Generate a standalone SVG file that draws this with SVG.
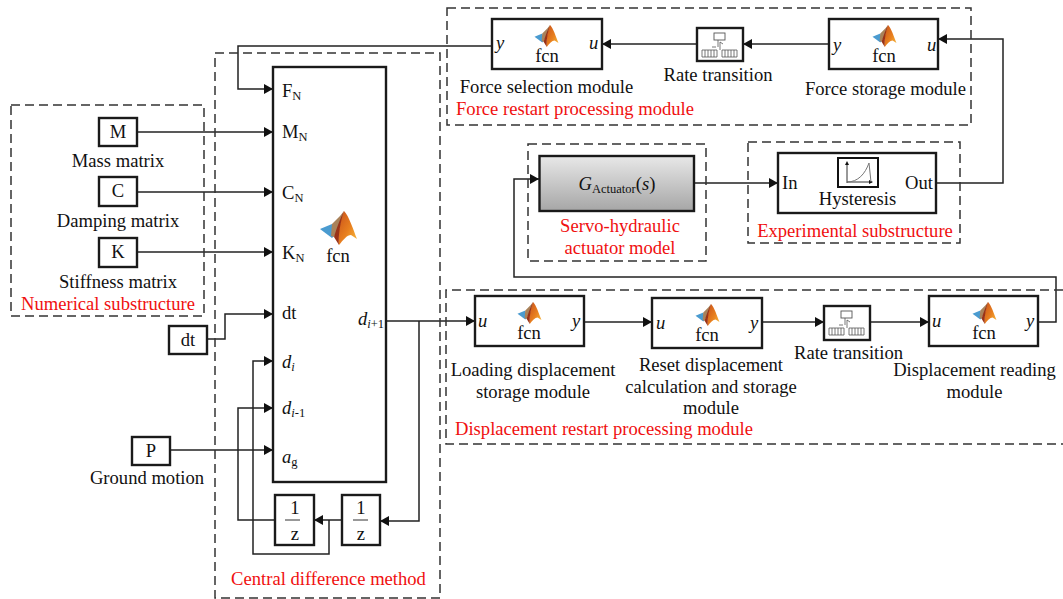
<svg xmlns="http://www.w3.org/2000/svg" width="1063" height="599" viewBox="0 0 1063 599">
<style>
text{font-family:"Liberation Serif","Times New Roman",serif;font-size:18.6px;fill:#111}
.m{text-anchor:middle}
.r{fill:#f01010}
.i{font-style:italic}
.s{font-size:12.5px}
.b{fill:#fff;stroke:#1a1a1a;stroke-width:2.4}
.d{fill:none;stroke:#333;stroke-width:1.5;stroke-dasharray:9 5}
.c{fill:none;stroke:#222;stroke-width:1.5}
.ic{fill:none;stroke:#555;stroke-width:.8}
</style>
<defs>
<marker id="a" markerUnits="userSpaceOnUse" markerWidth="11" markerHeight="11" refX="9" refY="5" orient="auto"><path d="M0 0L9 5L0 10Z" fill="#111"/></marker>
<linearGradient id="g" x1="0" y1="0" x2="0" y2="1"><stop offset="0" stop-color="#e8e8e8"/><stop offset="1" stop-color="#a6a6a6"/></linearGradient>
<linearGradient id="o" x1="0" y1="0" x2="1" y2="1"><stop offset="0" stop-color="#c8501a"/><stop offset=".55" stop-color="#e8801f"/><stop offset="1" stop-color="#f8c040"/></linearGradient>
<symbol id="logo" viewBox="0 0 37 34" overflow="visible">
<path d="M0 18L12 13L15 24L12 27Z" fill="#4a9bd0"/>
<path d="M12 13L20 5L24 0L20 14L14 26L11 25Z" fill="#a9825a"/>
<path d="M24 0C29 5 33 18 37 28L31 24C27 24 23 29 19 34C17 28 19 12 24 0Z" fill="url(#o)"/>
<path d="M24 0C20 8 17 16 14 26L19 34C18 26 20 12 24 0Z" fill="#9a3318"/>
</symbol>
<g id="rt">
<rect x="17" y="5" width="11" height="7" fill="#fff" stroke="#555" stroke-width=".9"/>
<path class="ic" d="M5 22H20V29H5ZM8 22V29M11 22V29M14 22V29M17 22V29M25 22H40V29H25ZM28 22V29M31 22V29M34 22V29M37 22V29M21 12V19M19 19H15M23 22V14L26 16"/>
</g>
</defs>

<g id="connectors">
<path class="c" marker-end="url(#a)" d="M492 46H238V89H273"/>
<path class="c" marker-end="url(#a)" d="M697 44H602"/>
<path class="c" marker-end="url(#a)" d="M829 44H743"/>
<path class="c" marker-end="url(#a)" d="M936 183H1003V39H938"/>
<path class="c" marker-end="url(#a)" d="M694 183H778"/>
<path class="c" marker-end="url(#a)" d="M1038 322H1056V277H514V179H539"/>
<path class="c" marker-end="url(#a)" d="M137 132H273"/>
<path class="c" marker-end="url(#a)" d="M137 192H273"/>
<path class="c" marker-end="url(#a)" d="M137 252H273"/>
<path class="c" marker-end="url(#a)" d="M207 339H225V314H273"/>
<path class="c" marker-end="url(#a)" d="M170 450H273"/>
<path class="c" marker-end="url(#a)" d="M386 321H475"/>
<path class="c" marker-end="url(#a)" d="M419 321V521H380"/>
<path class="c" marker-end="url(#a)" d="M342 520H314"/>
<path class="c" marker-end="url(#a)" d="M329 520V554H253V361H273"/>
<path class="c" marker-end="url(#a)" d="M275 520H238V408H273"/>
<path class="c" marker-end="url(#a)" d="M584 322H652"/>
<path class="c" marker-end="url(#a)" d="M762 322H824"/>
<path class="c" marker-end="url(#a)" d="M870 322H929"/>
</g>

<g id="group-force-restart"><rect class="d" x="447" y="8" width="524" height="117"/><text class="r" x="456" y="115">Force restart processing module</text></g>
<g id="group-numerical"><rect class="d" x="11" y="105" width="193" height="211"/><text class="r m" x="108" y="310">Numerical substructure</text></g>
<g id="group-central"><rect class="d" x="215" y="53" width="225" height="545"/><text class="r m" x="328.500" y="585">Central difference method</text></g>
<g id="group-servo"><rect class="d" x="528" y="144" width="178" height="117"/><text class="r m" x="620" y="232">Servo-hydraulic</text><text class="r m" x="620" y="254">actuator model</text></g>
<g id="group-experimental"><rect class="d" x="748" y="142" width="212" height="101"/><text class="r m" x="855" y="237">Experimental substructure</text></g>
<g id="group-displacement"><path class="d" d="M1063 290H446V444H1063"/><text class="r" x="455" y="434.500">Displacement restart processing module</text></g>

<g id="force-selection"><rect class="b" x="492" y="19" width="110" height="50"/><use href="#logo" x="534" y="25" width="25" height="22"/><text class="m" x="547" y="62">fcn</text><text class="i" x="496" y="49">y</text><text class="i" x="589" y="49">u</text><text class="m" x="546.500" y="92.500">Force selection module</text></g>
<g id="rate-top"><rect class="b" x="697" y="28" width="46" height="33"/><use href="#rt" x="697" y="28"/><text class="m" x="718" y="81">Rate transition</text></g>
<g id="force-storage"><rect class="b" x="829" y="19" width="109" height="50"/><use href="#logo" x="872" y="25" width="25" height="22"/><text class="m" x="884" y="62">fcn</text><text class="i" x="833" y="51">y</text><text class="i" x="927" y="51">u</text><text class="m" x="885.500" y="95">Force storage module</text></g>

<g id="servo"><rect x="539.500" y="156" width="154.500" height="55" fill="url(#g)" stroke="#1a1a1a" stroke-width="2.400"/><text class="m" x="617" y="190"><tspan class="i">G</tspan><tspan font-size="12.500" dy="3">Actuator</tspan><tspan dy="-3">(</tspan><tspan class="i">s</tspan>)</text></g>
<g id="hysteresis"><rect class="b" x="778" y="153" width="158" height="60"/><rect x="838" y="158" width="40" height="29" fill="#fff" stroke="#111" stroke-width="2"/><path d="M847 183V163M847 182H872" stroke="#333" fill="none"/><path d="M845 165L847 161L849 165ZM869 180L873 182L869 184Z" fill="#111"/><path d="M847 182C858 182 865 174 869 163L871 182" fill="none" stroke="#777"/><text class="m" x="857.500" y="205">Hysteresis</text><text x="782" y="189">In</text><text x="905" y="189">Out</text></g>

<g id="mass"><rect class="b" x="99" y="118" width="38" height="28"/><text class="m" x="118" y="138">M</text><text class="m" x="118" y="167">Mass matrix</text></g>
<g id="damping"><rect class="b" x="99" y="177" width="38" height="29"/><text class="m" x="118" y="197">C</text><text class="m" x="118" y="227">Damping matrix</text></g>
<g id="stiffness"><rect class="b" x="99" y="238" width="38" height="29"/><text class="m" x="118" y="258">K</text><text class="m" x="118" y="288">Stiffness matrix</text></g>
<g id="dt-source"><rect class="b" x="169" y="326" width="38" height="28"/><text class="m" x="188" y="346">dt</text></g>
<g id="ground"><rect class="b" x="132" y="437" width="38" height="28"/><text class="m" x="151" y="457">P</text><text class="m" x="147" y="484">Ground motion</text></g>

<g id="main-fcn"><rect class="b" x="273" y="67" width="113" height="415"/><use href="#logo" x="320" y="211" width="37" height="34"/><text class="m" x="338" y="262">fcn</text>
<text x="282" y="97">F<tspan class="s" dy="3">N</tspan></text>
<text x="282" y="138">M<tspan class="s" dy="3">N</tspan></text>
<text x="282" y="199">C<tspan class="s" dy="3">N</tspan></text>
<text x="282" y="259">K<tspan class="s" dy="3">N</tspan></text>
<text x="282" y="319">dt</text>
<text class="i" x="282" y="368">d<tspan class="s" dy="3">i</tspan></text>
<text class="i" x="282" y="414">d<tspan class="s" dy="3">i</tspan><tspan class="s" font-style="normal">-1</tspan></text>
<text class="i" x="282" y="463">a<tspan class="s" font-style="normal" dy="3">g</tspan></text>
<text class="i" x="358" y="325">d<tspan class="s" dy="3">i</tspan><tspan class="s" font-style="normal">+1</tspan></text>
</g>
<g id="delay-left"><rect class="b" x="275" y="495" width="39" height="50"/><path d="M285 520H300" stroke="#333"/><text class="m" x="295" y="514">1</text><text class="m" x="295" y="540">z</text></g>
<g id="delay-right"><rect class="b" x="342" y="495" width="38" height="50"/><path d="M353 520H368" stroke="#333"/><text class="m" x="361" y="514">1</text><text class="m" x="361" y="540">z</text></g>

<g id="loading"><rect class="b" x="475" y="296" width="109" height="50"/><use href="#logo" x="517" y="302" width="25" height="22"/><text class="m" x="529" y="339">fcn</text><text class="i" x="478" y="327">u</text><text class="i" x="572" y="327">y</text><text class="m" x="533" y="376">Loading displacement</text><text class="m" x="533" y="398">storage module</text></g>
<g id="reset"><rect class="b" x="652" y="298" width="110" height="50"/><use href="#logo" x="695" y="304" width="25" height="22"/><text class="m" x="707" y="341">fcn</text><text class="i" x="656" y="329">u</text><text class="i" x="750" y="329">y</text><text class="m" x="711" y="371">Reset displacement</text><text class="m" x="711" y="393">calculation and storage</text><text class="m" x="711" y="414">module</text></g>
<g id="rate-bottom"><rect class="b" x="824" y="306" width="46" height="34"/><use href="#rt" x="824" y="306"/><text class="m" x="848.500" y="359">Rate transition</text></g>
<g id="reading"><rect class="b" x="929" y="296" width="109" height="50"/><use href="#logo" x="972" y="302" width="25" height="22"/><text class="m" x="984" y="339">fcn</text><text class="i" x="932" y="327">u</text><text class="i" x="1026" y="327">y</text><text class="m" x="974.500" y="376">Displacement reading</text><text class="m" x="974.500" y="398">module</text></g>
</svg>
